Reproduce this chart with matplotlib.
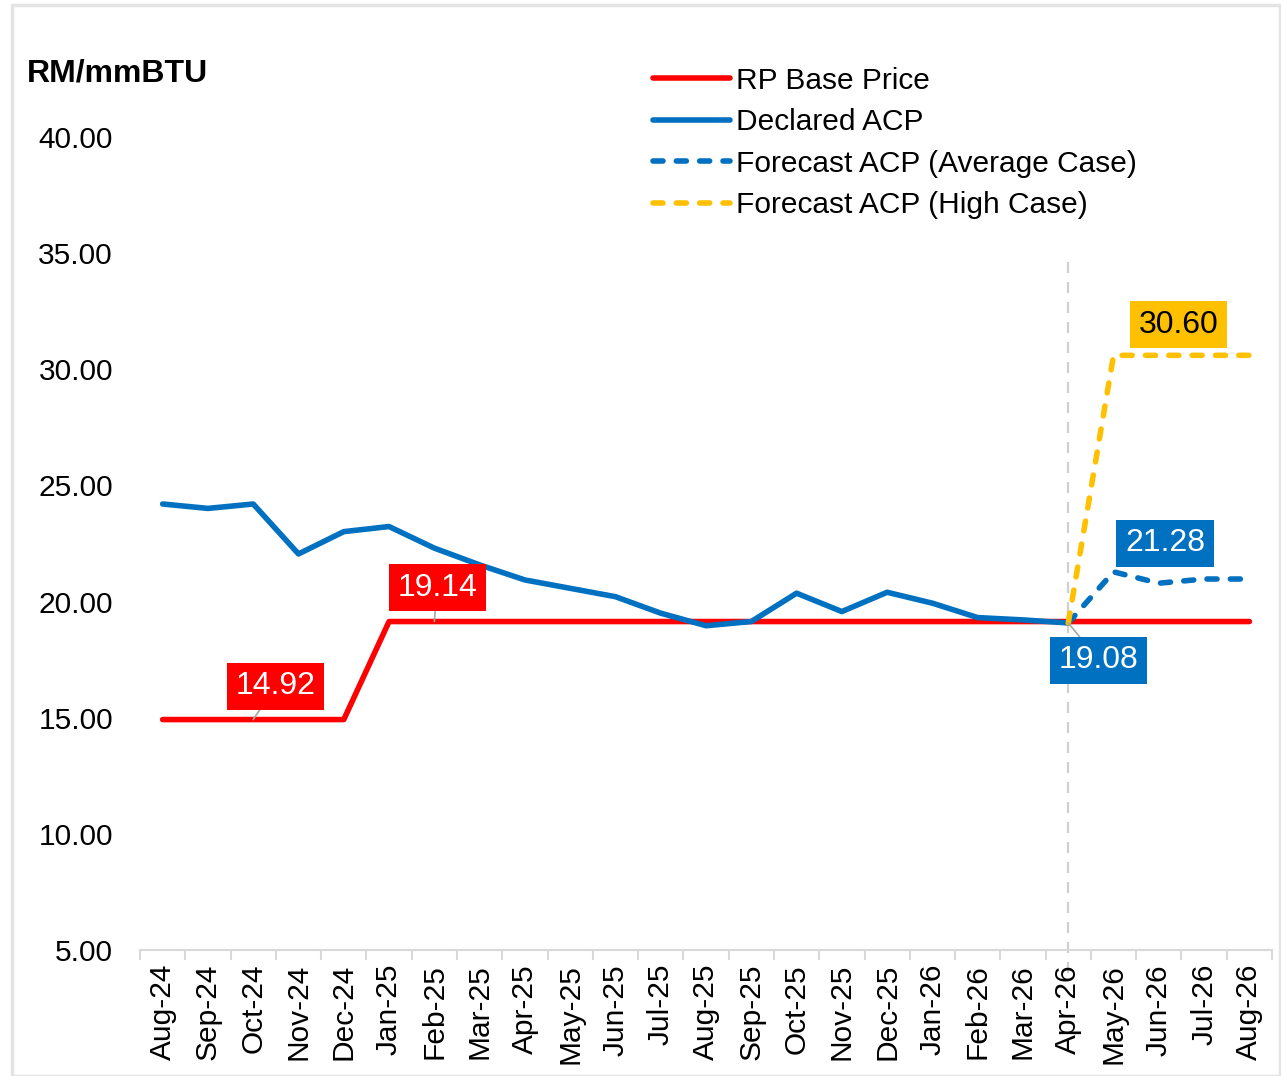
import matplotlib.pyplot as plt
from matplotlib.patches import Rectangle
from matplotlib.ticker import FixedLocator, NullFormatter

plt.rcParams['font.family'] = ['Liberation Sans', 'DejaVu Sans']

months = ['Aug-24', 'Sep-24', 'Oct-24', 'Nov-24', 'Dec-24', 'Jan-25', 'Feb-25',
          'Mar-25', 'Apr-25', 'May-25', 'Jun-25', 'Jul-25', 'Aug-25', 'Sep-25',
          'Oct-25', 'Nov-25', 'Dec-25', 'Jan-26', 'Feb-26', 'Mar-26', 'Apr-26',
          'May-26', 'Jun-26', 'Jul-26', 'Aug-26']

rp_base = [14.92] * 5 + [19.14] * 20
declared_acp = [24.20, 24.01, 24.20, 22.05, 23.01, 23.23, 22.30, 21.58, 20.93,
                20.57, 20.21, 19.50, 18.96, 19.14, 20.36, 19.57, 20.40, 19.93,
                19.31, 19.21, 19.08]
forecast_avg = [19.08, 21.28, 20.79, 20.97, 20.97]
forecast_high = [19.08, 30.60, 30.60, 30.60, 30.60]

RED = '#FF0000'
BLUE = '#0070C0'
GOLD = '#FFC000'
GREY = '#D9D9D9'
LW = 4

x = list(range(len(months)))
fc_start = len(declared_acp) - 1
x_fc = x[fc_start:]

fig = plt.figure(figsize=(12.81, 10.76), dpi=100)
ax = fig.add_axes([0.1093, 0.1171, 0.8837, 0.7556])

# outer frame
fig.patches.append(Rectangle((0.0095, 0.0), 0.99, 0.995, transform=fig.transFigure,
                             fill=False, edgecolor='#E4E4E4', linewidth=2.5))

# forecast start marker
ax.plot([fc_start, fc_start], [34.6, 3.9], color='#D0D0D0', lw=1.6,
        dashes=(5, 4), clip_on=False, zorder=1)

ax.plot(x, rp_base, color=RED, lw=LW, solid_capstyle='round', label='RP Base Price', zorder=3)
ax.plot(x[:len(declared_acp)], declared_acp, color=BLUE, lw=LW, solid_capstyle='round',
        label='Declared ACP', zorder=4)
ax.plot(x_fc, forecast_avg, color=BLUE, lw=LW, dashes=(1.8, 2.4), dash_capstyle='round',
        label='Forecast ACP (Average Case)', zorder=4)
ax.plot(x_fc, forecast_high, color=GOLD, lw=LW, dashes=(1.8, 2.4), dash_capstyle='round',
        label='Forecast ACP (High Case)', zorder=5)

ax.set_xlim(-0.5, len(months) - 0.5)
ax.set_ylim(5, 40)
ax.set_yticks(range(5, 41, 5))
ax.set_yticklabels([f'{v:.2f}' for v in range(5, 41, 5)], fontsize=21.5)
ax.set_xticks(x)
ax.set_xticklabels(months, rotation=90, fontsize=21.5)
ax.xaxis.set_minor_locator(FixedLocator([i - 0.5 for i in range(len(months) + 1)]))
ax.xaxis.set_minor_formatter(NullFormatter())
ax.tick_params(axis='x', which='major', length=0, pad=10)
ax.tick_params(axis='x', which='minor', length=7, width=1.5, color=GREY)
ax.tick_params(axis='y', length=0, pad=19.5)
for s in ['top', 'right', 'left']:
    ax.spines[s].set_visible(False)
ax.spines['bottom'].set_color(GREY)
ax.spines['bottom'].set_linewidth(1.5)

fig.text(0.021, 0.932, 'RM/mmBTU', fontsize=23, fontweight='bold', va='center')

leg = ax.legend(loc='upper left', bbox_to_anchor=(0.443, 1.101), frameon=False, fontsize=21.5,
                handlelength=2.55, handletextpad=0.2, labelspacing=0.45, borderaxespad=0)

# data labels
def label(i, val, txt, dx, dy, fc, tc, leader=True):
    arrow = dict(arrowstyle='-', color='#A6A6A6', lw=1.2, shrinkA=0, shrinkB=0) if leader else None
    ax.annotate(txt, xy=(i, val), xytext=(dx, dy), textcoords='offset points',
                ha='center', va='center', fontsize=23, color=tc, zorder=6,
                bbox=dict(boxstyle='square,pad=0.27', fc=fc, ec='none'),
                arrowprops=arrow)

label(2, rp_base[2], f'{rp_base[2]:.2f}', 16, 24, RED, 'white')
label(6, rp_base[6], f'{rp_base[6]:.2f}', 2, 24.5, RED, 'white')
label(fc_start, declared_acp[-1], f'{declared_acp[-1]:.2f}', 22, -27, BLUE, 'white')
label(fc_start + 1, forecast_avg[1], f'{forecast_avg[1]:.2f}', 37, 20.5, BLUE, 'white', leader=False)
label(fc_start + 1, forecast_high[1], f'{forecast_high[1]:.2f}', 47, 22, GOLD, 'black', leader=False)

fig.savefig('out.png', dpi=100)
